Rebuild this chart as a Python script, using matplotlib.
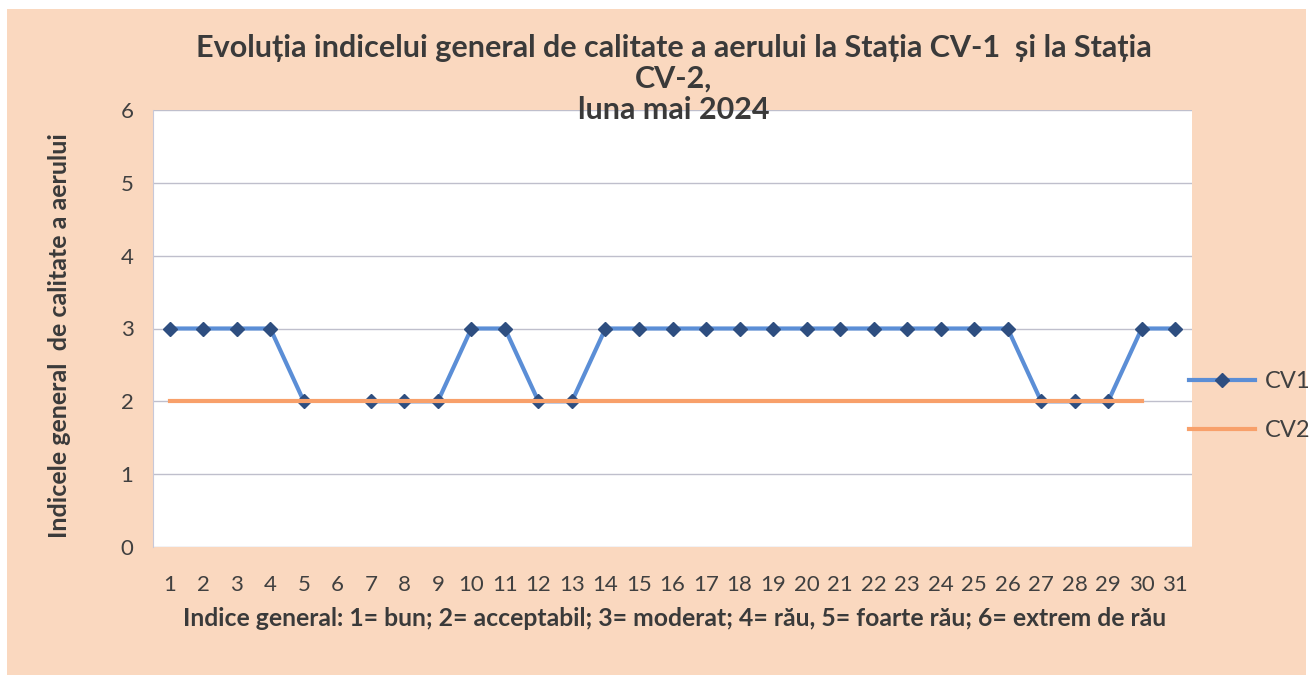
import numpy as np
import matplotlib
matplotlib.use("Agg")
import matplotlib.pyplot as plt
from matplotlib.patches import Rectangle

days = list(range(1, 32))
cv1 = [3, 3, 3, 3, 2, np.nan, 2, 2, 2, 3, 3, 2, 2, 3, 3, 3, 3, 3, 3, 3, 3, 3, 3, 3, 3, 3, 2, 2, 2, 3, 3]
cv2 = [2] * 30 + [np.nan]
yticks = [0, 1, 2, 3, 4, 5, 6]

title = "Evoluția indicelui general de calitate a aerului la Stația CV-1  și la Stația\nCV-2,\nluna mai 2024"
ylabel = "Indicele general  de calitate a aerului"
xlabel = "Indice general: 1= bun; 2= acceptabil; 3= moderat; 4= rău, 5= foarte rău; 6= extrem de rău"

plt.rcParams['font.family'] = ['Lato', 'DejaVu Sans']

W, H = 1311, 675
fig = plt.figure(figsize=(W / 100, H / 100), dpi=100, facecolor='white')
peach = '#FAD8BF'
fig.patches.append(Rectangle((7 / W, 0), (1306 - 7) / W, (H - 9) / H,
                             transform=fig.transFigure, facecolor=peach,
                             edgecolor='none', zorder=-10))

ax = fig.add_axes([153 / W, 1 - 547 / H, (1192 - 153) / W, (547 - 110) / H])
ax.set_zorder(1)
ax.set_facecolor('white')
ax.plot(days, cv1, color='#5B8ED6', lw=3, marker='D', ms=7,
        mfc='#2E4E80', mec='#2E4E80', label='CV1', zorder=3)
ax.plot(days, cv2, color='#F8A06A', lw=3, label='CV2', zorder=4)

ax.set_xlim(0.5, 31.5)
ax.set_ylim(0, 6)
ax.set_yticks(yticks)
ax.set_xticks(days)
ax.tick_params(axis='both', length=0, labelsize=16, colors='#404040')
ax.tick_params(axis='x', pad=20)
ax.tick_params(axis='y', pad=14)
ax.grid(axis='y', color='#BFBFCC', lw=1)
ax.set_axisbelow(True)
for s in ['top', 'right', 'bottom']:
    ax.spines[s].set_visible(False)
ax.spines['left'].set_color('#C8C8D8')

fig.text(674 / W, 1 - 79 / H, title, ha='center', va='center', fontsize=22,
         fontweight='bold', color='#3A3A3A', linespacing=1.13)
fig.text(60 / W, 1 - 336 / H, ylabel, rotation=90, ha='center', va='center',
         fontsize=18, fontweight='bold', color='#3A3A3A')
fig.text(675 / W, 1 - 618 / H, xlabel, ha='center', va='center', fontsize=17.8,
         fontweight='bold', color='#3A3A3A')

leg = fig.legend(loc='center left', bbox_to_anchor=(1168 / W, 1 - 406 / H),
                 frameon=False, fontsize=17, handlelength=2.8,
                 labelspacing=1.2, handletextpad=0.4)
for t in leg.get_texts():
    t.set_color('#404040')

fig.savefig('out.png', dpi=100, facecolor='white')
